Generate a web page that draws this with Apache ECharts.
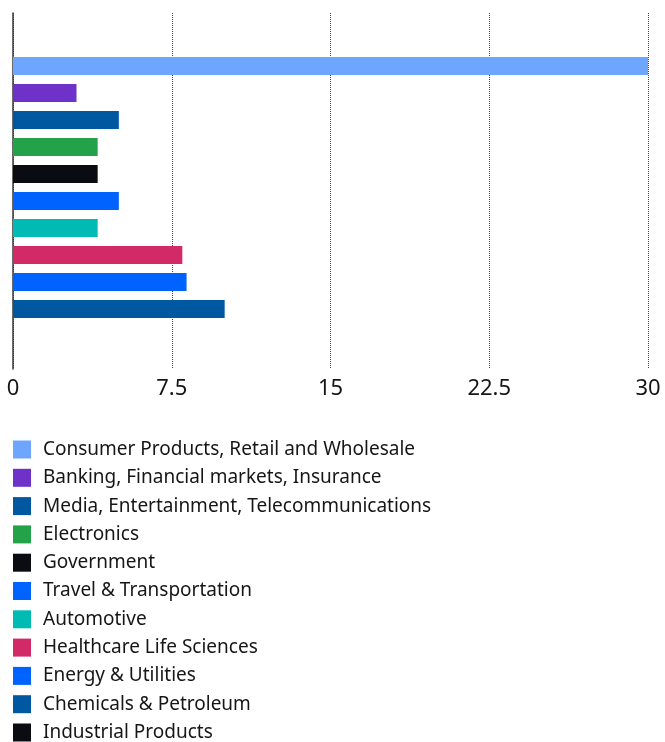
<!DOCTYPE html>
<html>
<head>
<meta charset="utf-8">
<script src="https://cdn.jsdelivr.net/npm/echarts@6/dist/echarts.min.js"></script>
<style>
  html, body { margin: 0; padding: 0; background: #fff; }
  #contain { width: 665px; height: 742px; }
</style>
</head>
<body>
<div id="contain"></div>
<script>
const industries = [
  'Consumer Products, Retail and Wholesale',
  'Banking, Financial markets, Insurance',
  'Media, Entertainment, Telecommunications',
  'Electronics',
  'Government',
  'Travel & Transportation',
  'Automotive',
  'Healthcare Life Sciences',
  'Energy & Utilities',
  'Chemicals & Petroleum',
  'Industrial Products'
]
const counts = [30, 3, 5, 4, 4, 5, 4, 8, 8.2, 10, 0]
const colors = [
  '#6ea6ff', '#6e32c9', '#0058a1', '#24a249', '#0b0c12', '#0062ff',
  '#00bab4', '#d12a66', '#0062ff', '#0058a1', '#0b0c12'
]
const xTicks = [0, 7.5, 15, 22.5, 30]

const font = '"Noto Sans", sans-serif'
const chart = echarts.init(document.getElementById('contain'))

// one series per industry, each only filled on its own row
const series = industries.map((name, i) => ({
  name: name,
  type: 'bar',
  xAxisIndex: 1,
  yAxisIndex: 1,
  barWidth: 18,
  barGap: '-100%',
  itemStyle: { color: colors[i] },
  data: industries.map((_, j) => (j === i ? counts[i] : '-'))
}))

const xMin = xTicks[0]
const xMax = xTicks[xTicks.length - 1]

const option = {
  animation: false,
  // grid 0: frame (grid lines, ticks, zero line); grid 1: the bars
  grid: [
    { left: 13, right: 17, top: 13, bottom: 373 },
    { left: 13, right: 17, top: 52.5, bottom: 392.5 }
  ],
  xAxis: [{
    gridIndex: 0,
    type: 'value',
    min: xMin,
    max: xMax,
    interval: 7.5,
    axisLine: { show: false },
    axisTick: { show: false },
    axisLabel: { color: '#161616', fontSize: 22, fontFamily: font, margin: 9 },
    splitLine: { show: true, lineStyle: { color: '#444', type: [1, 1], width: 1 } }
  }, {
    gridIndex: 1,
    type: 'value',
    min: xMin,
    max: xMax,
    show: false
  }],
  yAxis: [{
    gridIndex: 0,
    type: 'value',
    min: 0,
    max: 1,
    axisLine: { show: true, lineStyle: { color: '#393939', width: 1.5 } },
    axisTick: { show: false },
    axisLabel: { show: false },
    splitLine: { show: false }
  }, {
    gridIndex: 1,
    type: 'category',
    data: industries,
    inverse: true,
    show: false
  }],
  legend: {
    orient: 'vertical',
    left: 13,
    top: 440,
    height: 340,
    padding: 0,
    icon: 'rect',
    itemWidth: 18,
    itemHeight: 18,
    itemGap: 9.3,
    textStyle: { color: '#161616', fontSize: 19, lineHeight: 18, fontFamily: font, padding: [0, 0, 0, 7] },
    data: industries
  },
  series: series
}

chart.setOption(option)
</script>
</body>
</html>
